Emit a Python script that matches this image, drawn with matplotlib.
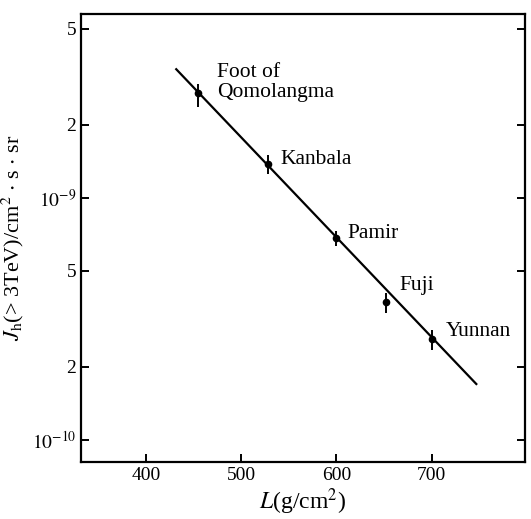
import matplotlib
matplotlib.use("Agg")
import matplotlib.pyplot as plt
from matplotlib.ticker import FixedLocator, FixedFormatter, NullLocator

plt.rcParams["font.family"] = ["Liberation Serif", "DejaVu Serif"]
plt.rcParams["mathtext.fontset"] = "stix"

# ---------------- DATA ----------------
sites = ["Foot of\nQomolangma", "Kanbala", "Pamir", "Fuji", "Yunnan"]
depth = [455, 528, 600, 652, 700]                     # L (g/cm^2)
flux = [2.7e-9, 1.38e-9, 6.8e-10, 3.7e-10, 2.6e-10]   # J_h(>3TeV)
err_lo = [0.33e-9, 0.12e-9, 0.5e-10, 0.35e-10, 0.25e-10]
err_hi = [0.25e-9, 0.12e-9, 0.5e-10, 0.35e-10, 0.25e-10]

fit_depth = [432, 747]
fit_flux = [3.4e-9, 1.7e-10]

yticks = [5e-9, 2e-9, 1e-9, 5e-10, 2e-10, 1e-10]
ytick_labels = ["5", "2", r"$10^{-9}$", "5", "2", r"$10^{-10}$"]
xticks = [400, 500, 600, 700]

fig = plt.figure(figsize=(5.31, 5.19), dpi=100)
ax = fig.add_axes([0.1525, 0.11, 0.836, 0.863])

ax.plot(fit_depth, fit_flux, color="black", lw=1.6)
ax.errorbar(depth, flux, yerr=[err_lo, err_hi], fmt="o", color="black",
            ms=4.5, elinewidth=1.4, capsize=0)

# site labels, offsets in points from the data point
offsets = [(13.5, 8), (9.5, 3.5), (8, 3.5), (9.5, 12), (10, 6)]
for name, x, y, off in zip(sites, depth, flux, offsets):
    ax.annotate(name, (x, y), xytext=off, textcoords="offset points",
                fontsize=15.5, va="center", ha="left", linespacing=1.05)

ax.set_yscale("log")
ax.set_xlim(332, 798)
ax.set_ylim(8.1e-11, 5.75e-9)

ax.yaxis.set_major_locator(FixedLocator(yticks))
ax.yaxis.set_major_formatter(FixedFormatter(ytick_labels))
ax.yaxis.set_minor_locator(NullLocator())
ax.xaxis.set_major_locator(FixedLocator(xticks))

ax.tick_params(direction="in", length=6, width=1.4, labelsize=14,
               right=True, top=False)
for s in ax.spines.values():
    s.set_linewidth(1.6)

ax.set_xlabel(r"$L$(g/cm$^2$)", fontsize=17, labelpad=2)
ax.set_ylabel(r"$J_{\rm h}$(> 3TeV)/cm$^2$ $\cdot$ s $\cdot$ sr", fontsize=16,
              labelpad=4)

fig.savefig("out.png", dpi=100)
